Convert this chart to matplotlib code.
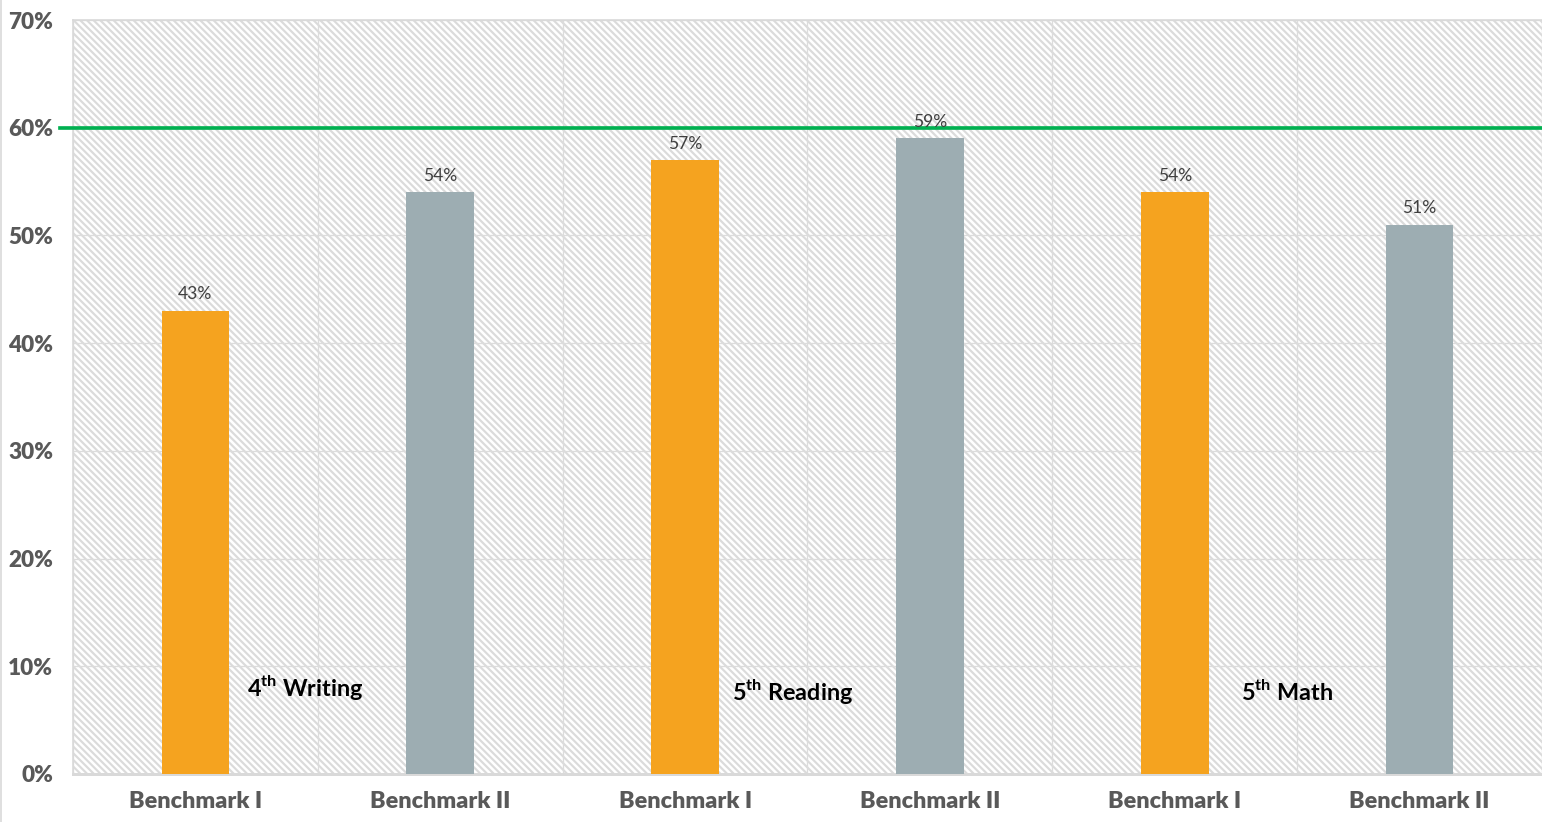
import matplotlib
matplotlib.use("Agg")
import matplotlib.pyplot as plt
from matplotlib.patches import Rectangle
from matplotlib.lines import Line2D
from matplotlib.ticker import FuncFormatter, MultipleLocator

categories = ["Benchmark I", "Benchmark II", "Benchmark I", "Benchmark II", "Benchmark I", "Benchmark II"]
values = [43, 54, 57, 59, 54, 51]
bar_colors = ["#F5A31F", "#9DADB2", "#F5A31F", "#9DADB2", "#F5A31F", "#9DADB2"]
groups = ["4$^{\\mathbf{th}}$ Writing", "5$^{\\mathbf{th}}$ Reading", "5$^{\\mathbf{th}}$ Math"]
group_x = [0.45, 2.44, 4.46]
group_y = [8.0, 7.7, 7.7]
target = 60

plt.rcParams["font.family"] = ["Lato", "DejaVu Sans"]
plt.rcParams["mathtext.fontset"] = "custom"
plt.rcParams["mathtext.rm"] = "Lato"
plt.rcParams["mathtext.bf"] = "Lato:bold"
plt.rcParams["hatch.color"] = "#DBDBDB"
plt.rcParams["hatch.linewidth"] = 1.3

W, H, DPI = 1542, 822, 120
fig = plt.figure(figsize=(W / DPI, H / DPI), dpi=DPI)
ax = fig.add_axes([73 / W, (822 - 774) / H, (W - 73) / W, 754 / H])

# striped background
ax.add_patch(Rectangle((0, 0), 1, 1, transform=ax.transAxes, facecolor="white",
                       edgecolor="#DBDBDB", hatch="\\" * 6, linewidth=0, zorder=0))

x = list(range(len(categories)))
ax.bar(x, values, width=0.276, color=bar_colors, zorder=3)

for xi, v in zip(x, values):
    ax.annotate(f"{v}%", (xi, v), xytext=(0, 5), textcoords="offset points",
                ha="center", va="bottom", fontsize=10.5, color="#404040", zorder=5)

for gx, gy, g in zip(group_x, group_y, groups):
    ax.text(gx, gy, g, ha="center", va="center", fontsize=14,
            fontweight="bold", color="black", zorder=5)

ax.axhline(target, xmin=-13 / (W - 73), xmax=1, color="#00B050", lw=2.2,
           zorder=4, clip_on=False)

# one category slot is 246 px wide; the last slot runs past the right edge
ax.set_ylim(0, 70)
ax.set_xlim(-0.5, -0.5 + (W - 73) / 246)
ax.yaxis.set_major_locator(MultipleLocator(10))
ax.yaxis.set_major_formatter(FuncFormatter(lambda v, p: f"{int(v)}%"))
ax.set_xticks(x)
ax.set_xticklabels(categories)
ax.set_xticks([i + 0.5 for i in range(-1, len(categories))], minor=True)

ax.grid(axis="y", which="major", color="#DCDCDC", lw=0.8, zorder=1)
ax.grid(axis="x", which="minor", color="#DCDCDC", lw=0.8, zorder=1)
ax.set_axisbelow(True)

ax.tick_params(axis="both", which="both", length=0)
ax.tick_params(axis="y", pad=12, labelsize=13.5, labelcolor="#595959")
ax.tick_params(axis="x", pad=10, labelsize=14, labelcolor="#595959")
for lab in ax.get_xticklabels() + ax.get_yticklabels():
    lab.set_fontweight("heavy")

for side in ["top", "left"]:
    ax.spines[side].set_color("#D9D9D9")
    ax.spines[side].set_linewidth(1.0)
ax.spines["right"].set_visible(False)
ax.spines["bottom"].set_color("#D9D9D9")
ax.spines["bottom"].set_linewidth(1.8)

fig.add_artist(Line2D([0.6 / W, 0.6 / W], [0, 1], transform=fig.transFigure,
                      color="#D9D9D9", lw=1.0))

fig.savefig("out.png", dpi=DPI)
